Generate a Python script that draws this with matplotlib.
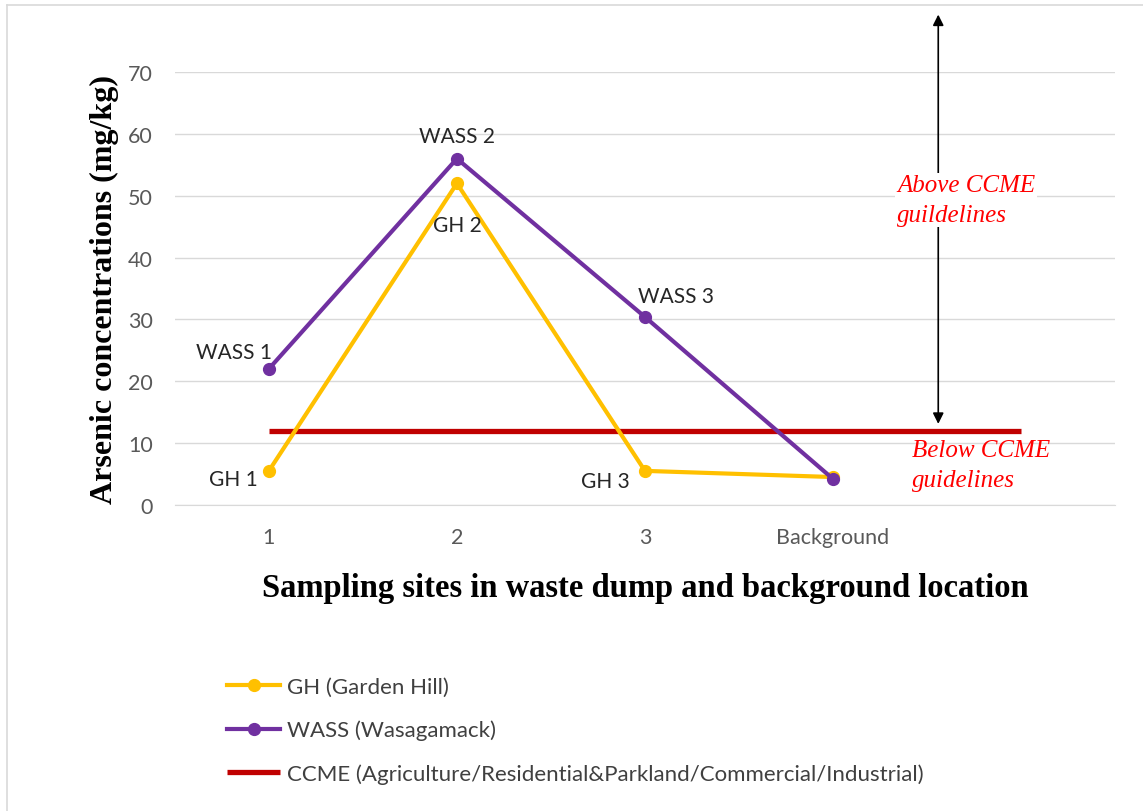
import matplotlib.pyplot as plt
from matplotlib.lines import Line2D

# Sampling sites (last category is an empty slot, as in the original sheet)
sites = ["1", "2", "3", "Background", ""]
gh_values = [5.5, 52, 5.5, 4.5]
wass_values = [22, 56, 30.4, 4.2]
ccme_values = [12, 12, 12, 12, 12]

gh_labels = ["GH 1", "GH 2", "GH 3", ""]
wass_labels = ["WASS 1", "WASS 2", "WASS 3", ""]

GH_COLOR = "#FFC000"
WASS_COLOR = "#7030A0"
CCME_COLOR = "#C00000"
SANS = "Lato"
SERIF = "Liberation Serif"

fig = plt.figure(figsize=(11.43, 8.12), dpi=100)
ax = fig.add_axes([0.153, 0.377, 0.8225, 0.533])

x = list(range(len(sites)))
ax.plot(x[:4], gh_values, color=GH_COLOR, lw=3, marker="o", ms=8.5,
        label="GH (Garden Hill)", zorder=3)
ax.plot(x[:4], wass_values, color=WASS_COLOR, lw=3, marker="o", ms=8.5,
        label="WASS (Wasagamack)", zorder=4)
ax.plot(x, ccme_values, color=CCME_COLOR, lw=3.8, solid_capstyle="butt",
        label="CCME (Agriculture/Residential&Parkland/Commercial/Industrial)", zorder=2)

# point labels (offsets in pixels)
gh_offsets = [(-36, -8), (0, -42), (-40, -10)]
wass_offsets = [(-35, 17), (0, 23), (31, 21)]
for i, (lab, off) in enumerate(zip(gh_labels, gh_offsets)):
    ax.annotate(lab, (x[i], gh_values[i]), xytext=off, textcoords="offset pixels",
                ha="center", va="center", fontsize=15, family=SANS, color="#262626")
for i, (lab, off) in enumerate(zip(wass_labels, wass_offsets)):
    ax.annotate(lab, (x[i], wass_values[i]), xytext=off, textcoords="offset pixels",
                ha="center", va="center", fontsize=15, family=SANS, color="#262626")

ax.set_xlim(-0.5, 4.5)
ax.set_ylim(0, 70)
ax.set_xticks(x)
ax.set_xticklabels(sites)
ax.set_yticks(range(0, 71, 10))
ax.tick_params(length=0, labelsize=15.5, labelcolor="#595959")
ax.tick_params(axis="x", pad=16)
ax.tick_params(axis="y", pad=16)
for t in ax.get_xticklabels() + ax.get_yticklabels():
    t.set_family(SANS)
ax.grid(axis="y", color="#D9D9D9", lw=1)
ax.set_axisbelow(True)
for s in ["top", "right", "left"]:
    ax.spines[s].set_visible(False)
ax.spines["bottom"].set_color("#D9D9D9")

ax.set_ylabel("Arsenic concentrations (mg/kg)", family=SERIF, fontweight="bold",
              fontsize=23, labelpad=6)
ax.set_xlabel("Sampling sites in waste dump and background location", family=SERIF,
              fontweight="bold", fontsize=23.5, labelpad=18)

# guideline arrow and notes
ax.annotate("", xy=(3.56, 79.3), xytext=(3.56, 13.1), annotation_clip=False,
            arrowprops=dict(arrowstyle="<|-|>", color="black", lw=1.2,
                            mutation_scale=16, shrinkA=0, shrinkB=0))
ax.text(3.34, 49.3, "Above CCME\nguildelines", color="red", style="italic",
        family=SERIF, fontsize=18, ha="left", va="center", linespacing=1.45,
        bbox=dict(facecolor="white", edgecolor="none", pad=1), zorder=5)
ax.text(3.42, 6.4, "Below CCME\nguidelines", color="red", style="italic",
        family=SERIF, fontsize=18, ha="left", va="center", linespacing=1.45, zorder=5)

leg = fig.legend(loc="upper left", bbox_to_anchor=(0.1986, 0.165), frameon=False,
                 borderpad=0, borderaxespad=0,
                 handlelength=2.4, handletextpad=0.3, labelspacing=1.02,
                 prop={"family": SANS, "size": 16})
for t in leg.get_texts():
    t.set_color("#404040")

# chart border
fig.add_artist(Line2D([0.0061, 1], [0.9926, 0.9926], color="#D9D9D9", lw=1.2))
fig.add_artist(Line2D([0.0061, 0.0061], [0, 0.9926], color="#D9D9D9", lw=1.2))

fig.savefig("out.png", dpi=100)
